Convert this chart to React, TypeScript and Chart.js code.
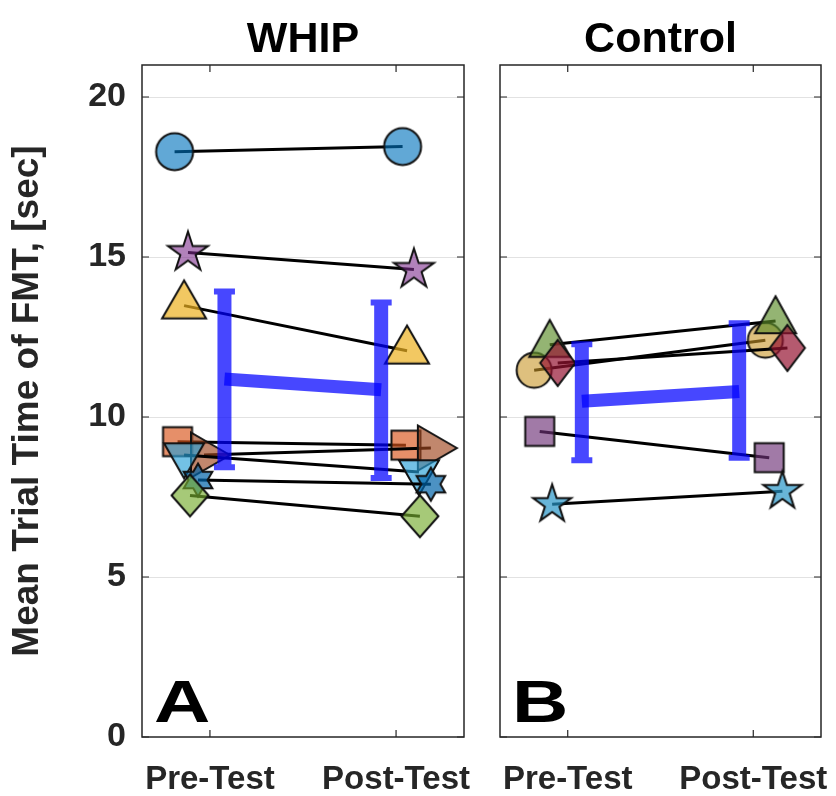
import React, { useEffect, useRef } from 'react';
import { Chart, registerables } from 'chart.js';
Chart.register(...registerables);

const FONT = "'Liberation Sans', Arial, Helvetica, sans-serif";
const TEXT = '#262626';

// ---- axes ----
const yTickValues = [0, 5, 10, 15, 20];
const xTickValues = [1, 2];
const xTickLabels = ['Pre-Test', 'Post-Test'];
const yAxisTitle = 'Mean Trial Time of FMT, [sec]';
const panelTitles = ['WHIP', 'Control'];
const panelLetters = ['A', 'B'];

// ---- Panel A: WHIP (one entry per subject) ----
const whipPreX = [0.81, 0.882, 0.861, 0.826, 0.968, 0.861, 0.936, 0.893];
const whipPostX = [2.035, 2.096, 2.059, 2.053, 2.187, 2.123, 2.187, 2.128];
const whipPre = [18.29, 15.14, 13.48, 9.23, 8.81, 8.81, 8.03, 7.55];
const whipPost = [18.45, 14.61, 12.07, 9.12, 9.03, 8.28, 7.9, 6.9];
const whipMeanX = [1.078, 1.92];
const whipMean = [11.19, 10.85];
const whipLow = [8.43, 8.09];
const whipHigh = [13.92, 13.58];

// ---- Panel B: Control ----
const ctrlPreX = [0.819, 0.903, 0.946, 0.849, 0.916];
const ctrlPostX = [2.065, 2.12, 2.184, 2.086, 2.157];
const ctrlPre = [11.46, 12.26, 11.69, 9.55, 7.27];
const ctrlPost = [12.4, 13.0, 12.16, 8.73, 7.68];
const ctrlMeanX = [1.076, 1.924];
const ctrlMean = [10.49, 10.8];
const ctrlLow = [8.65, 8.73];
const ctrlHigh = [12.27, 12.93];

// ---- marker styles (shape, fill, width, height) ----
type Shape = 'circle' | 'square' | 'triUp' | 'triDown' | 'triRight' | 'diamond' | 'pentagram' | 'hexagram';
interface MStyle { shape: Shape; fill: string; w: number; h: number }

const whipStyles: MStyle[] = [
  { shape: 'circle', fill: 'rgba(0,114,189,0.62)', w: 37, h: 37 },
  { shape: 'pentagram', fill: 'rgba(126,47,142,0.6)', w: 42, h: 42 },
  { shape: 'triUp', fill: 'rgba(237,177,32,0.7)', w: 44, h: 38 },
  { shape: 'square', fill: 'rgba(217,83,25,0.65)', w: 29, h: 29 },
  { shape: 'triRight', fill: 'rgba(160,70,30,0.65)', w: 39, h: 45 },
  { shape: 'triDown', fill: 'rgba(40,160,215,0.65)', w: 40, h: 35 },
  { shape: 'hexagram', fill: 'rgba(0,100,170,0.7)', w: 33, h: 33 },
  { shape: 'diamond', fill: 'rgba(119,172,48,0.65)', w: 37, h: 42 },
];
const ctrlStyles: MStyle[] = [
  { shape: 'circle', fill: 'rgba(200,150,40,0.6)', w: 35, h: 35 },
  { shape: 'triUp', fill: 'rgba(90,140,40,0.65)', w: 41, h: 37 },
  { shape: 'diamond', fill: 'rgba(150,20,50,0.7)', w: 35, h: 46 },
  { shape: 'square', fill: 'rgba(110,50,120,0.65)', w: 29, h: 29 },
  { shape: 'pentagram', fill: 'rgba(40,150,200,0.7)', w: 40, h: 40 },
];

function makeMarker(s: MStyle): HTMLCanvasElement {
  const half = Math.ceil(Math.max(s.w, s.h) * 0.7 + 4);
  const c = document.createElement('canvas');
  c.width = c.height = half * 2;
  const ctx = c.getContext('2d')!;
  const cx = half, cy = half;
  const { w, h } = s;
  ctx.beginPath();
  const star = (n: number, R: number, r: number) => {
    for (let k = 0; k < n * 2; k++) {
      const ang = -Math.PI / 2 + (k * Math.PI) / n;
      const rad = k % 2 === 0 ? R : r;
      const px = cx + Math.cos(ang) * rad;
      const py = cy + Math.sin(ang) * rad;
      if (k === 0) ctx.moveTo(px, py); else ctx.lineTo(px, py);
    }
  };
  switch (s.shape) {
    case 'circle':
      ctx.arc(cx, cy, w / 2, 0, Math.PI * 2);
      break;
    case 'square':
      ctx.rect(cx - w / 2, cy - h / 2, w, h);
      break;
    case 'triUp':
      ctx.moveTo(cx, cy - (2 * h) / 3);
      ctx.lineTo(cx + w / 2, cy + h / 3);
      ctx.lineTo(cx - w / 2, cy + h / 3);
      break;
    case 'triDown':
      ctx.moveTo(cx, cy + (2 * h) / 3);
      ctx.lineTo(cx + w / 2, cy - h / 3);
      ctx.lineTo(cx - w / 2, cy - h / 3);
      break;
    case 'triRight':
      ctx.moveTo(cx + (2 * w) / 3, cy);
      ctx.lineTo(cx - w / 3, cy - h / 2);
      ctx.lineTo(cx - w / 3, cy + h / 2);
      break;
    case 'diamond':
      ctx.moveTo(cx, cy - h / 2);
      ctx.lineTo(cx + w / 2, cy);
      ctx.lineTo(cx, cy + h / 2);
      ctx.lineTo(cx - w / 2, cy);
      break;
    case 'pentagram':
      star(5, w / 2, (w / 2) * 0.382);
      break;
    case 'hexagram':
      star(6, w / 2, (w / 2) / Math.sqrt(3));
      break;
  }
  ctx.closePath();
  ctx.fillStyle = s.fill;
  ctx.fill();
  ctx.lineWidth = 2;
  ctx.lineJoin = 'miter';
  ctx.strokeStyle = '#111';
  ctx.stroke();
  return c;
}

interface PanelCfg {
  idx: number;
  preX: number[]; postX: number[]; pre: number[]; post: number[];
  meanX: number[]; mean: number[]; low: number[]; high: number[];
  styles: MStyle[];
  showY: boolean;
}

const BLUE = 'rgba(0,0,255,0.72)';

const decorPlugin = {
  id: 'decor',
  afterDatasetsDraw(chart: any, _args: any, opts: any) {
    const { ctx, scales } = chart;
    const xs = scales.x, ys = scales.y;
    const cfg: PanelCfg = opts.cfg;
    ctx.save();
    // mean connecting line
    ctx.beginPath();
    ctx.moveTo(xs.getPixelForValue(cfg.meanX[0]), ys.getPixelForValue(cfg.mean[0]));
    ctx.lineTo(xs.getPixelForValue(cfg.meanX[1]), ys.getPixelForValue(cfg.mean[1]));
    ctx.strokeStyle = BLUE;
    ctx.lineWidth = 13;
    ctx.lineCap = 'butt';
    ctx.stroke();
    // error bars (union of bar + caps, filled once)
    for (let i = 0; i < cfg.meanX.length; i++) {
      const xp = xs.getPixelForValue(cfg.meanX[i]);
      const yl = ys.getPixelForValue(cfg.low[i]);
      const yh = ys.getPixelForValue(cfg.high[i]);
      ctx.beginPath();
      ctx.rect(xp - 7, yh - 3, 14, yl - yh + 6);
      ctx.rect(xp - 10.5, yh - 3, 21, 6);
      ctx.rect(xp - 10.5, yl - 3, 21, 6);
      ctx.fillStyle = BLUE;
      ctx.fill('nonzero');
    }
    ctx.restore();
  },
  afterDraw(chart: any, _args: any, opts: any) {
    const { ctx, chartArea: a, scales } = chart;
    const cfg: PanelCfg = opts.cfg;
    ctx.save();
    ctx.strokeStyle = TEXT;
    ctx.lineWidth = 1.5;
    ctx.strokeRect(a.left, a.top, a.right - a.left, a.bottom - a.top);
    ctx.beginPath();
    for (const v of yTickValues) {
      const yp = scales.y.getPixelForValue(v);
      ctx.moveTo(a.left, yp); ctx.lineTo(a.left + 7, yp);
      ctx.moveTo(a.right, yp); ctx.lineTo(a.right - 7, yp);
    }
    for (const v of xTickValues) {
      const xp = scales.x.getPixelForValue(v);
      ctx.moveTo(xp, a.bottom); ctx.lineTo(xp, a.bottom - 7);
      ctx.moveTo(xp, a.top); ctx.lineTo(xp, a.top + 7);
    }
    ctx.lineWidth = 1.2;
    ctx.stroke();
    // title
    ctx.fillStyle = '#000';
    ctx.font = `bold 43px ${FONT}`;
    ctx.textAlign = 'center';
    ctx.textBaseline = 'alphabetic';
    ctx.fillText(panelTitles[cfg.idx], (a.left + a.right) / 2, 52);
    // panel letter (slightly wide, as in the reference)
    ctx.font = `bold 60px ${FONT}`;
    ctx.textAlign = 'left';
    ctx.translate(a.left + 12, a.bottom - 15);
    ctx.scale(1.3, 1);
    ctx.fillText(panelLetters[cfg.idx], 0, 0);
    ctx.restore();
  },
};

function Panel({ cfg, left, width }: { cfg: PanelCfg; left: number; width: number }) {
  const ref = useRef<HTMLCanvasElement>(null);
  useEffect(() => {
    const n = cfg.pre.length;
    const datasets = cfg.pre.map((_, i) => {
      const marker = makeMarker(cfg.styles[i]);
      return {
        data: [
          { x: cfg.preX[i], y: cfg.pre[i] },
          { x: cfg.postX[i], y: cfg.post[i] },
        ],
        borderColor: '#000',
        borderWidth: 3,
        pointStyle: marker,
        pointRadius: 10,
        pointHoverRadius: 10,
        tension: 0,
        order: n - i,
        clip: false as any,
      };
    });
    const chart = new Chart(ref.current!, {
      type: 'line',
      data: { datasets },
      plugins: [decorPlugin],
      options: {
        animation: false,
        responsive: false,
        events: [],
        layout: { padding: { top: 65, right: cfg.showY ? 16 : 15, left: 0, bottom: 0 } },
        plugins: {
          legend: { display: false },
          tooltip: { enabled: false },
          decor: { cfg },
        } as any,
        scales: {
          x: {
            type: 'linear',
            min: 0.635,
            max: 2.365,
            afterBuildTicks: (s: any) => { s.ticks = xTickValues.map((v) => ({ value: v })); },
            afterFit: (s: any) => { s.height = 59; s.paddingLeft = 0; s.paddingRight = 0; },
            grid: { display: false, drawTicks: false },
            border: { display: false },
            ticks: {
              autoSkip: false,
              maxRotation: 0,
              padding: 23,
              color: TEXT,
              font: { family: FONT, size: 33, weight: 'bold' },
              callback: (v: any) => {
                const k = xTickValues.indexOf(Number(v));
                return k >= 0 ? xTickLabels[k] : '';
              },
            },
          },
          y: {
            type: 'linear',
            min: 0,
            max: 21,
            afterBuildTicks: (s: any) => { s.ticks = yTickValues.map((v) => ({ value: v })); },
            afterFit: (s: any) => { s.width = cfg.showY ? 142 : 20; s.paddingTop = 0; s.paddingBottom = 0; },
            grid: {
              drawTicks: false,
              color: (c: any) => (c.tick && c.tick.value === 0 ? 'rgba(0,0,0,0)' : '#e2e2e2'),
              lineWidth: 1,
            },
            border: { display: false },
            ticks: {
              display: cfg.showY,
              padding: 16,
              color: TEXT,
              font: { family: FONT, size: 34, weight: 'bold' },
            },
            title: {
              display: cfg.showY,
              text: yAxisTitle,
              color: TEXT,
              font: { family: FONT, size: 37, weight: 'bold' },
              padding: { top: 6, bottom: 0 },
            },
          },
        },
      } as any,
    });
    return () => chart.destroy();
  }, [cfg]);
  return (
    <canvas
      ref={ref}
      width={width}
      height={796}
      style={{ position: 'absolute', left, top: 0, width, height: 796 }}
    />
  );
}

const whipCfg: PanelCfg = {
  idx: 0, preX: whipPreX, postX: whipPostX, pre: whipPre, post: whipPost,
  meanX: whipMeanX, mean: whipMean, low: whipLow, high: whipHigh,
  styles: whipStyles, showY: true,
};
const ctrlCfg: PanelCfg = {
  idx: 1, preX: ctrlPreX, postX: ctrlPostX, pre: ctrlPre, post: ctrlPost,
  meanX: ctrlMeanX, mean: ctrlMean, low: ctrlLow, high: ctrlHigh,
  styles: ctrlStyles, showY: false,
};

export default function App() {
  return (
    <div style={{ position: 'absolute', left: 0, top: 0, width: 836, height: 796, background: '#fff' }}>
      <Panel cfg={whipCfg} left={0} width={480} />
      <Panel cfg={ctrlCfg} left={480} width={356} />
    </div>
  );
}
